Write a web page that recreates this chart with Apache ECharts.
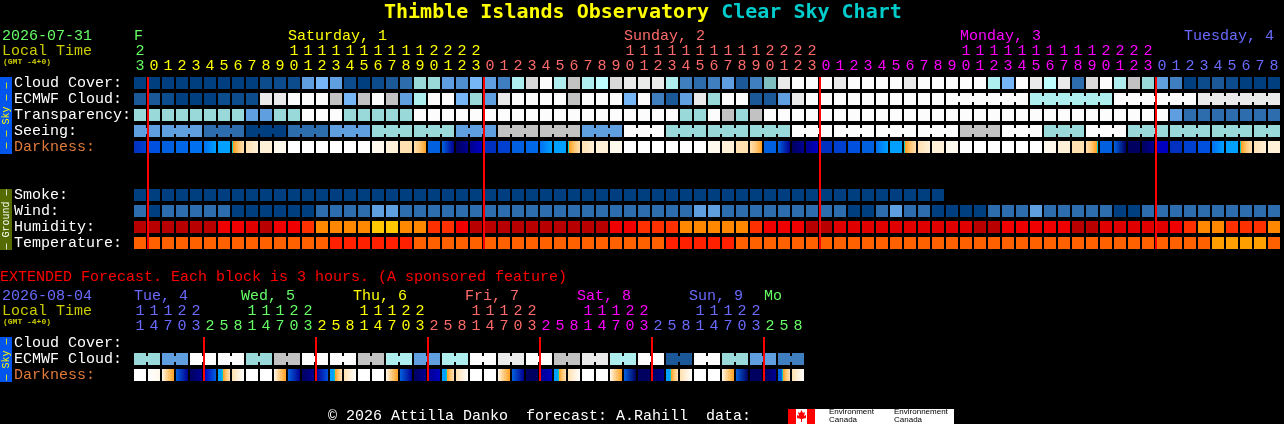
<!DOCTYPE html>
<html><head><meta charset="utf-8">
<style>html,body{margin:0;padding:0;background:#000;overflow:hidden}#c{width:1284px;height:424px}</style>
<script src="https://cdn.jsdelivr.net/npm/echarts@6/dist/echarts.min.js"></script>
</head><body><div id="c"></div>
<script>
// ---------- palettes ----------
const levelColors = ['#003F7F','#0D4C8C','#1A5898','#2D6DAD','#3F7FBF','#4F8FCF','#5F9FDF','#76B6F6','#7FBFBF','#99D9D9','#AEEEEE','#BEFEFE','#C2C2C2','#D9D9D9','#EAEAEA','#FCFCFC'];
const humidityColors = ['#B80000','#E00000','#F00000','#FF3000','#FF8800','#FFC800'];
const temperatureColors = ['#FF6000','#FF2000','#FFA000'];
const darkColors = {n:'#000060',m:'#000090',k:'#0000C0',j:'#0030C0',i:'#0040D0',h:'#0050E0',g:'#0060E0',f:'#0068E8',e:'#0070F0',d:'#0080F8',c:'#00A0FF',y:'#00C8C8',o:'#FFA020',p:'#FFC878',q:'#FFE0B0',r:'#FFF0D8',s:'#FFF8EC',w:'#FFFFFF'};
const GREEN='#66FF66',YELLOW='#FFFF00',SALMON='#FF6A6A',MAGENTA='#FF00FF',PERI='#6A6AFF';

// ---------- main chart: 82 hourly columns ----------
const hourUnits = [3,0,1,2,3,4,5,6,7,8,9,0,1,2,3,4,5,6,7,8,9,0,1,2,3,0,1,2,3,4,5,6,7,8,9,0,1,2,3,4,5,6,7,8,9,0,1,2,3,0,1,2,3,4,5,6,7,8,9,0,1,2,3,4,5,6,7,8,9,0,1,2,3,0,1,2,3,4,5,6,7,8];
const hourTens  = ['2','','','','','','','','','','','1','1','1','1','1','1','1','1','1','1','2','2','2','2','','','','','','','','','','','1','1','1','1','1','1','1','1','1','1','2','2','2','2','','','','','','','','','','','1','1','1','1','1','1','1','1','1','1','2','2','2','2','','','','','','','','',''];
const dayOfCol  = [GREEN].concat(Array(24).fill(YELLOW),Array(24).fill(SALMON),Array(24).fill(MAGENTA),Array(9).fill(PERI));
const dayCols   = [0,11,35,59,75];
const dayNames  = ['F','Saturday, 1','Sunday, 2','Monday, 3','Tuesday, 4'];
const dayColors = [GREEN,YELLOW,SALMON,MAGENTA,PERI];
const midnightCols = [1,25,49,73];
const rowLabels = ['Cloud Cover:','ECMWF Cloud:','Transparency:','Seeing:','Darkness:','','','Smoke:','Wind:','Humidity:','Temperature:'];

const cloud = [0,0,0,0,0,0,0,0,0,1,1,1,6,7,6,1,0,1,2,3,9,9,6,5,7,6,4,10,13,15,10,12,10,11,13,14,14,14,10,4,3,4,6,2,4,8,14,15,15,15,14,15,15,15,15,14,15,15,15,15,15,10,7,15,14,11,14,3,13,15,10,12,9,6,4,0,1,2,1,0,0,0];
const ecmwf = [2,2,1,0,0,0,1,1,1,14,14,15,15,15,12,7,12,15,12,6,10,15,15,7,9,6,14,15,15,15,15,12,15,15,15,7,15,4,2,6,14,9,15,15,2,2,6,14,15,15,15,15,15,15,15,15,15,15,15,15,15,15,15,15,10,10,10,10,10,10,15,15,15,15,15,15,14,14,14,14,14,14];
const ecmwfBlocks = [[58,63],[64,69],[70,75],[76,81]];
const transparency = [9,9,9,9,9,9,9,9,6,6,9,9,15,15,15,9,9,9,9,9,15,15,15,15,15,15,15,15,15,15,15,15,15,15,15,15,15,15,15,9,9,15,12,9,12,15,15,15,15,15,15,15,15,15,15,15,15,15,15,15,15,15,15,15,15,15,15,15,15,15,15,15,15,15,6,3,3,3,3,3,3,3];
const seeing = [6,6,6,6,6,3,3,3,0,0,0,3,3,3,6,6,6,9,9,9,9,9,9,6,6,6,12,12,12,12,12,12,6,6,6,15,15,15,9,9,9,9,9,9,9,9,9,15,15,15,15,15,15,15,15,15,15,15,15,12,12,12,15,15,15,9,9,9,15,15,15,9,9,9,9,9,9,9,9,9,9,9];
const seeingBlocks = [[0,1],[2,4],[5,7],[8,10],[11,13],[14,16],[17,19],[20,22],[23,25],[26,28],[29,31],[32,34],[35,37],[38,40],[41,43],[44,46],[47,49],[50,52],[53,55],[56,58],[59,61],[62,64],[65,67],[68,70],[71,73],[74,76],[77,79],[80,81]];
const darkness = ['ji','h','g','f','e','ec','c','yopq','qr','r','s','w','w','w','w','w','w','s','r','q','qpo','g','gm','nm','mk','j','i','g','f','ec','c','yopq','qr','r','s','w','w','w','w','w','w','s','r','q','qpo','g','gm','nm','mk','j','i','h','g','ec','c','yopq','qr','r','s','w','w','w','w','w','w','s','r','q','qpoy','g','gn','n','nm','k','j','i','h','ec','c','yopq','qr','r'];
const smoke = [0,0,0,0,0,0,0,0,0,0,0,0,0,0,0,0,0,0,0,0,0,0,0,0,0,0,0,0,0,0,0,0,0,0,0,0,0,0,0,0,0,0,0,0,0,0,0,0,0,0,0,0,0,0,0,0,0,0];
const wind = [3,0,3,3,3,3,3,0,0,0,0,0,0,3,3,3,3,6,6,3,3,3,3,3,3,3,3,3,3,3,3,3,3,3,3,3,3,3,3,3,6,6,3,3,3,3,3,3,3,3,3,0,0,3,6,3,3,0,0,0,0,3,3,3,6,3,3,3,3,3,0,0,3,3,3,3,3,3,3,3,3,3];
const humidity = [0,0,0,0,0,0,2,2,1,0,2,2,3,4,4,4,4,5,5,4,4,3,3,2,0,0,0,0,0,0,0,0,0,0,2,2,3,3,3,4,4,4,4,4,3,2,2,2,0,0,1,1,1,1,1,1,1,1,1,1,0,0,2,2,2,2,2,0,0,1,1,1,1,1,2,3,4,4,3,3,3,4];
const temperature = [0,0,0,0,0,0,0,0,0,0,0,0,0,0,1,1,1,1,1,1,0,0,0,0,0,0,0,0,0,0,0,0,0,0,0,0,0,0,1,1,1,1,1,0,0,0,0,0,0,0,0,0,0,0,0,0,0,0,0,0,0,0,0,0,0,0,0,0,0,0,0,0,0,0,0,0,0,2,2,2,2,0];

// ---------- extended chart: 48 three-hour columns ----------
const extUnits = [1,4,7,0,3,2,5,8,1,4,7,0,3,2,5,8,1,4,7,0,3,2,5,8,1,4,7,0,3,2,5,8,1,4,7,0,3,2,5,8,1,4,7,0,3,2,5,8];
const extTens  = ['1','1','1','2','2','','','','1','1','1','2','2','','','','1','1','1','2','2','','','','1','1','1','2','2','','','','1','1','1','2','2','','','','1','1','1','2','2','','',''];
const extDayOfCol = [].concat(Array(5).fill(PERI),Array(8).fill(GREEN),Array(8).fill(YELLOW),Array(8).fill(SALMON),Array(8).fill(MAGENTA),Array(8).fill(PERI),Array(3).fill(GREEN));
const extDayCols   = [0,8,16,24,32,40,45];
const extDayNames  = ['Tue, 4','Wed, 5','Thu, 6','Fri, 7','Sat, 8','Sun, 9','Mo'];
const extDayColors = [PERI,GREEN,YELLOW,SALMON,MAGENTA,PERI,GREEN];
const extMidnightCols = [5,13,21,29,37,45];
const extRowLabels = ['Cloud Cover:','ECMWF Cloud:','Darkness:'];
const extEcmwf = [9,9,6,6,15,15,15,15,9,9,12,12,15,15,15,15,12,12,10,10,6,6,10,10,15,15,14,14,15,15,12,12,14,14,10,10,15,15,2,2,15,15,9,9,6,6,4,4];
const extBlocks = [[0,1],[2,3],[4,5],[6,7],[8,9],[10,11],[12,13],[14,15],[16,17],[18,19],[20,21],[22,23],[24,25],[26,27],[28,29],[30,31],[32,33],[34,35],[36,37],[38,39],[40,41],[42,43],[44,45],[46,47]];
const extDarkness = ['w','ws','spo','gm','nm','kg','cyopq','qrw','w','w','spo','gm','nm','mh','cyopq','qrw','w','w','spo','gm','nm','mk','cyopq','qrw','w','w','spo','gm','n','mk','cyopq','qrw','w','w','spo','gn','n','nm','cyopq','qrw','w','w','spo','gn','n','nm','gyopq','qrw'];

// ---------- helpers ----------
const MONO = '"Liberation Mono", monospace';
const lookup = pal => v => pal[v];
function cellsFrom(row, values, colourOf, blocks){
  const out = [];
  values.forEach((v,col)=>{
    const bridged = !!(blocks && blocks.some(b=>col>=b[0] && col<b[1]));
    out.push({value:[col,row], fillColor:colourOf(v), bridged});
  });
  return out;
}
function gradient(str){
  if(str.length===1) return darkColors[str];
  // 'y' is the thin, hard-edged twilight sliver between the night and day blends
  const at = str.indexOf('y');
  const blend = (part,from,to)=>part.split('').map((k,i)=>({offset:from+(to-from)*(part.length>1?i/(part.length-1):0),color:darkColors[k]}));
  let stops;
  if(at<0) stops = blend(str,0,1);
  else {
    const left = str.slice(0,at), right = str.slice(at+1);
    const a = left.length ? (right.length ? 0.35 : 0.88) : 0;
    const b = a + (left.length && right.length ? 0.08 : 0.12);
    stops = [];
    if(left.length) stops = stops.concat(blend(left,0,a), left.length===1?[{offset:a,color:darkColors[left]}]:[]);
    stops.push({offset:a,color:darkColors.y},{offset:b,color:darkColors.y});
    if(right.length) stops = stops.concat(blend(right,b,1));
  }
  return {type:'linear',x:0,y:0,x2:1,y2:0,colorStops:stops};
}
function cellSeries(xi,yi,items){
  return {type:'custom',xAxisIndex:xi,yAxisIndex:yi,animation:false,silent:true,encode:{x:0,y:1},
    data:items.map(d=>d.value),
    renderItem(params,api){
      const it = items[params.dataIndex];
      const c = api.coord([api.value(0),api.value(1)]);
      const children = [{type:'rect',shape:{x:c[0]-6,y:c[1]-6,width:12,height:12},style:{fill:it.fillColor}}];
      if(it.bridged) children.push({type:'rect',shape:{x:c[0]+6,y:c[1]-3,width:2,height:6},style:{fill:it.fillColor}});
      return {type:'group',children};
    }};
}
function ruleSeries(xi,yi,cols,lastRow){
  return {type:'custom',xAxisIndex:xi,yAxisIndex:yi,animation:false,silent:true,z:5,encode:{x:0},
    data:cols.map(c=>[c,0]),
    renderItem(params,api){
      const a = api.coord([api.value(0),0]), b = api.coord([api.value(0),lastRow]);
      return {type:'rect',shape:{x:a[0]-7,y:a[1]-6,width:2,height:b[1]-a[1]+12},style:{fill:'#FF0000'}};
    }};
}
function daySeries(xi,yi,cols,names,colours,adjust){
  return {type:'custom',xAxisIndex:xi,yAxisIndex:yi,animation:false,silent:true,encode:{x:0},
    data:cols.map(c=>[c,0]),
    renderItem(params,api){
      const i = params.dataIndex, c = api.coord([api.value(0),0]);
      return {type:'text',style:{text:names[i],x:c[0]-6+adjust(cols[i]),y:c[1]-47,fill:colours[i],font:'15px '+MONO,textAlign:'left',textVerticalAlign:'middle',verticalAlign:'middle'}};
    }};
}
function hourAxis(grid,data,colours,offset){
  return {type:'category',gridIndex:grid,position:'top',data:data.map(String),offset,
    axisLine:{show:false},axisTick:{show:false},splitLine:{show:false},
    axisLabel:{interval:0,margin:9,hideOverlap:false,verticalAlign:'middle',fontFamily:MONO,fontSize:15,
      color:(v,i)=>colours[i]}};
}
function rowAxis(grid,labels,labelColor){
  return {type:'category',gridIndex:grid,inverse:true,data:labels,
    axisLine:{show:false},axisTick:{show:false},splitLine:{show:false},
    axisLabel:{interval:0,margin:119,align:'left',verticalAlign:'middle',fontFamily:MONO,fontSize:15,padding:[0,0,4,0],
      color:v=>v==='Darkness:'?'#E07A3A':'#FFFFFF'}};
}
const lv = lookup(levelColors);

const option = {
  backgroundColor:'#000',
  animation:false,
  title:{left:384,top:1,padding:0,
    text:'{a|Thimble Islands Observatory}{b| Clear Sky Chart}',
    textStyle:{rich:{
      a:{color:'#FFFF00',fontFamily:'"DejaVu Sans Mono"',fontWeight:'bold',fontSize:20,lineHeight:24},
      b:{color:'#00CCCC',fontFamily:'"DejaVu Sans Mono"',fontWeight:'bold',fontSize:20,lineHeight:24}}}},
  grid:[{left:133,top:75,width:1148,height:176},{left:133,top:335,width:672,height:48}],
  xAxis:[
    hourAxis(0,hourUnits,dayOfCol,0),
    hourAxis(0,hourTens,dayOfCol,15),
    hourAxis(1,extUnits,extDayOfCol,0),
    hourAxis(1,extTens,extDayOfCol,15)
  ],
  yAxis:[rowAxis(0,rowLabels),rowAxis(1,extRowLabels)],
  series:[
    cellSeries(0,0,[].concat(
      cellsFrom(0,cloud,lv),
      cellsFrom(1,ecmwf,lv,ecmwfBlocks),
      cellsFrom(2,transparency,lv),
      cellsFrom(3,seeing,lv,seeingBlocks),
      cellsFrom(4,darkness,gradient),
      cellsFrom(7,smoke,lv),
      cellsFrom(8,wind,lv),
      cellsFrom(9,humidity,lookup(humidityColors)),
      cellsFrom(10,temperature,lookup(temperatureColors)))),
    ruleSeries(0,0,midnightCols,10),
    daySeries(0,0,dayCols,dayNames,dayColors,()=>0),
    cellSeries(2,1,[].concat(
      cellsFrom(1,extEcmwf,lv,extBlocks),
      cellsFrom(2,extDarkness,gradient))),
    ruleSeries(2,1,extMidnightCols,2),
    daySeries(2,1,extDayCols,extDayNames,extDayColors,c=>(c>0&&c%8===0)?-5:0)
  ],
  graphic:[
    {type:'text',left:2,top:29,style:{text:'2026-07-31',fill:GREEN,font:'15px '+MONO}},
    {type:'text',left:2,top:44,style:{text:'Local Time',fill:'#CCCC00',font:'15px '+MONO}},
    {type:'text',left:3,top:58,style:{text:'(GMT -4+0)',fill:'#CCCC00',font:'bold 8px '+MONO}},
    {type:'text',left:0,top:270,style:{text:'EXTENDED Forecast. Each block is 3 hours. (A sponsored feature)',fill:'#FF0000',font:'15px '+MONO}},
    {type:'text',left:2,top:289,style:{text:'2026-08-04',fill:PERI,font:'15px '+MONO}},
    {type:'text',left:2,top:304,style:{text:'Local Time',fill:'#CCCC00',font:'15px '+MONO}},
    {type:'text',left:3,top:318,style:{text:'(GMT -4+0)',fill:'#CCCC00',font:'bold 8px '+MONO}},
    {type:'rect',shape:{x:0,y:77,width:12,height:77},style:{fill:'#0055EE'}},
    {type:'text',x:6,y:115.5,rotation:Math.PI/2,style:{text:'— — Sky — —',fill:'#FFFF00',font:'10px '+MONO,textAlign:'center',textVerticalAlign:'middle',verticalAlign:'middle'}},
    {type:'rect',shape:{x:0,y:189,width:12,height:61},style:{fill:'#556B00'}},
    {type:'text',x:6,y:219.5,rotation:Math.PI/2,style:{text:'— Ground —',fill:'#FFFFFF',font:'10px '+MONO,textAlign:'center',textVerticalAlign:'middle',verticalAlign:'middle'}},
    {type:'rect',shape:{x:0,y:337,width:12,height:45},style:{fill:'#0055EE'}},
    {type:'text',x:6,y:359.5,rotation:Math.PI/2,style:{text:'— Sky —',fill:'#FFFF00',font:'10px '+MONO,textAlign:'center',textVerticalAlign:'middle',verticalAlign:'middle'}},
    {type:'text',left:328,top:409,style:{text:'© 2026 Attilla Danko  forecast: A.Rahill  data:',fill:'#FFFFFF',font:'15px '+MONO}},
    {type:'rect',shape:{x:788,y:409,width:166,height:15},style:{fill:'#FFFFFF'}},
    {type:'rect',shape:{x:788,y:409,width:8,height:15},style:{fill:'#FF0000'}},
    {type:'rect',shape:{x:807,y:409,width:8,height:15},style:{fill:'#FF0000'}},
    {type:'polygon',shape:{points:[[801.5,410],[803,413],[805,412],[804,416],[806,415],[806,418],[802,419],[802,422],[801,422],[801,419],[797,418],[797,415],[799,416],[798,412],[800,413]]},style:{fill:'#FF0000'}},
    {type:'text',left:829,top:408,style:{text:'Environment',fill:'#000',font:'8px "Liberation Sans"'}},
    {type:'text',left:829,top:416,style:{text:'Canada',fill:'#000',font:'8px "Liberation Sans"'}},
    {type:'text',left:894,top:408,style:{text:'Environnement',fill:'#000',font:'8px "Liberation Sans"'}},
    {type:'text',left:894,top:416,style:{text:'Canada',fill:'#000',font:'8px "Liberation Sans"'}}
  ]
};
const chart = echarts.init(document.getElementById('c'),null,{renderer:'canvas',width:1284,height:424});
chart.setOption(option);
</script></body></html>
